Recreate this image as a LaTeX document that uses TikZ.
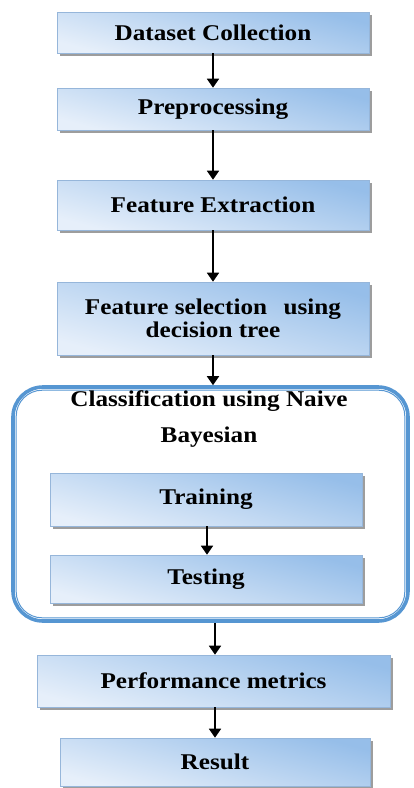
\documentclass[tikz,border=0pt]{standalone}
\usepackage{fontspec}
\setmainfont{Liberation Serif}[FakeStretch=1.12]
\usetikzlibrary{arrows.meta,shadows}

\definecolor{boxlight}{RGB}{230,239,250}
\definecolor{boxdark}{RGB}{150,190,233}
\definecolor{boxedge}{RGB}{150,182,218}
\definecolor{frameblue}{RGB}{86,150,210}

\tikzset{
  stagebox/.style={
    draw=boxedge, line width=0.6pt,
    top color=boxdark, bottom color=boxlight, shading angle=-15,
    drop shadow={shadow xshift=2.5pt, shadow yshift=-2.5pt, fill=black!45, opacity=0.85},
    minimum width=312pt, align=center, inner sep=2pt,
    font=\bfseries\fontsize{22.5}{23}\selectfont
  },
  flow/.style={line width=1.8pt, -{Triangle[width=12pt,length=9pt]}},
  outerframe/.style={draw=frameblue, line width=3.6pt, rounded corners=30pt},
  innerframe/.style={draw=frameblue, line width=1pt, rounded corners=26pt},
  label/.style={font=\bfseries\fontsize{22.5}{23}\selectfont}
}

\begin{document}
\begin{tikzpicture}[x=1pt,y=1pt]
  \useasboundingbox (0,0) rectangle (414,-788);
  \fill[white] (0,0) rectangle (414,-788);

  % main pipeline stages
  \node[stagebox, minimum height=41pt] (data) at (213,-32.5) {Dataset Collection};
  \node[stagebox, minimum height=42pt] (prep) at (213,-109) {Preprocessing};
  \node[stagebox, minimum height=50pt] (fext) at (213,-205) {Feature Extraction};
  \node[stagebox, minimum height=73pt] (fsel) at (213,-318.5) {Feature selection\hspace{0.45em} using\\decision tree};

  % classification block with its double frame
  \node[outerframe, minimum width=395pt, minimum height=234pt] (cls) at (210.5,-504) {};
  \draw[innerframe] ([xshift=5pt,yshift=-5pt]cls.north west)
                    rectangle ([xshift=-5pt,yshift=5pt]cls.south east);
  \node[label] (clsA) at (209,-401) {Classification using Naive};
  \node[label] (clsB) at (209,-437) {Bayesian};
  \node[stagebox, minimum height=53pt] (train) at (206,-499.5) {Training};
  \node[stagebox, minimum height=48pt] (test) at (206,-579) {Testing};

  % evaluation stages
  \node[stagebox, minimum width=353pt, minimum height=52pt] (perf) at (213.5,-681) {Performance metrics};
  \node[stagebox, minimum width=310pt, minimum height=48pt] (res) at (215,-762) {Result};

  % connectors
  \coordinate (topin) at (213,-53);
  \draw[flow] (data.south -| topin) -- (prep.north -| topin);
  \draw[flow] (prep.south -| topin) -- (fext.north -| topin);
  \draw[flow] (fext.south -| topin) -- (fsel.north -| topin);
  \draw[flow] (fsel.south -| topin) -- (cls.north -| topin);
  \coordinate (mid) at (207,0);
  \draw[flow] (train.south -| mid) -- (test.north -| mid);
  \coordinate (low) at (215,0);
  \draw[flow] (cls.south -| low) -- (perf.north -| low);
  \draw[flow] (perf.south -| low) -- (res.north -| low);
\end{tikzpicture}
\end{document}
